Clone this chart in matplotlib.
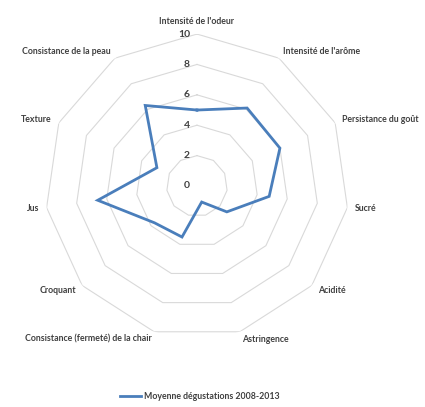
import numpy as np
import matplotlib
matplotlib.use("Agg")
import matplotlib.pyplot as plt
from matplotlib.transforms import offset_copy

# Criteria, clockwise from the top
categories = [
    "Intensité de l'odeur",
    "Intensité de l'arôme",
    "Persistance du goût",
    "Sucré",
    "Acidité",
    "Astringence",
    "Consistance (fermeté) de la chair",
    "Croquant",
    "Jus",
    "Texture",
    "Consistance de la peau",
]
moyenne = [5.0, 6.1, 6.0, 4.8, 2.6, 1.1, 3.5, 3.7, 6.6, 2.9, 6.3]
series_name = "Moyenne dégustations 2008-2013"
rings = [2, 4, 6, 8, 10]
ring_labels = ["0", "2", "4", "6", "8", "10"]

plt.rcParams['font.family'] = ['Lato', 'DejaVu Sans']
text_color = "#404040"
line_color = "#4a7ebb"
grid_color = "#d9d9d9"

fig = plt.figure(figsize=(4.25, 4.07), dpi=100)
ax = fig.add_axes([0.106, 0.1695, 0.715, 0.747], projection='polar')
ax.set_theta_zero_location('N')
ax.set_theta_direction(-1)
ax.set_ylim(0, 10)
ax.axis('off')

n = len(categories)
angles = np.linspace(0, 2 * np.pi, n, endpoint=False)
closed = np.append(angles, angles[0])

# polygon gridlines (Excel style)
for r in rings:
    ax.plot(closed, [r] * (n + 1), color=grid_color, lw=0.8, zorder=1)

# radial tick labels along the top axis
lbl_tr = offset_copy(ax.transData, fig=fig, x=-7, y=0, units='dots')
for i, s in enumerate(ring_labels):
    ax.text(0, i * 2, s, transform=lbl_tr, ha='right', va='center',
            fontsize=7.5, fontweight='bold', color=text_color)

# category labels
for a, name in zip(angles, categories):
    s = np.sin(a)
    if abs(s) < 0.01:
        ha, va = 'center', 'bottom'
    elif s > 0:
        ha, va = 'left', 'center'
    else:
        ha, va = 'right', 'center'
    ax.text(a, 10.5, name, ha=ha, va=va, fontsize=6.3, fontweight='bold',
            color=text_color)

vals = moyenne + moyenne[:1]
ax.plot(closed, vals, color=line_color, lw=2, label=series_name, zorder=3,
        solid_joinstyle='miter')

leg = fig.legend(loc='lower center', bbox_to_anchor=(0.47, -0.005), frameon=False,
                 fontsize=6.3, handlelength=2.4, handletextpad=0.3)
for t in leg.get_texts():
    t.set_color(text_color)
    t.set_fontweight('bold')

fig.savefig("out.png", dpi=100)
